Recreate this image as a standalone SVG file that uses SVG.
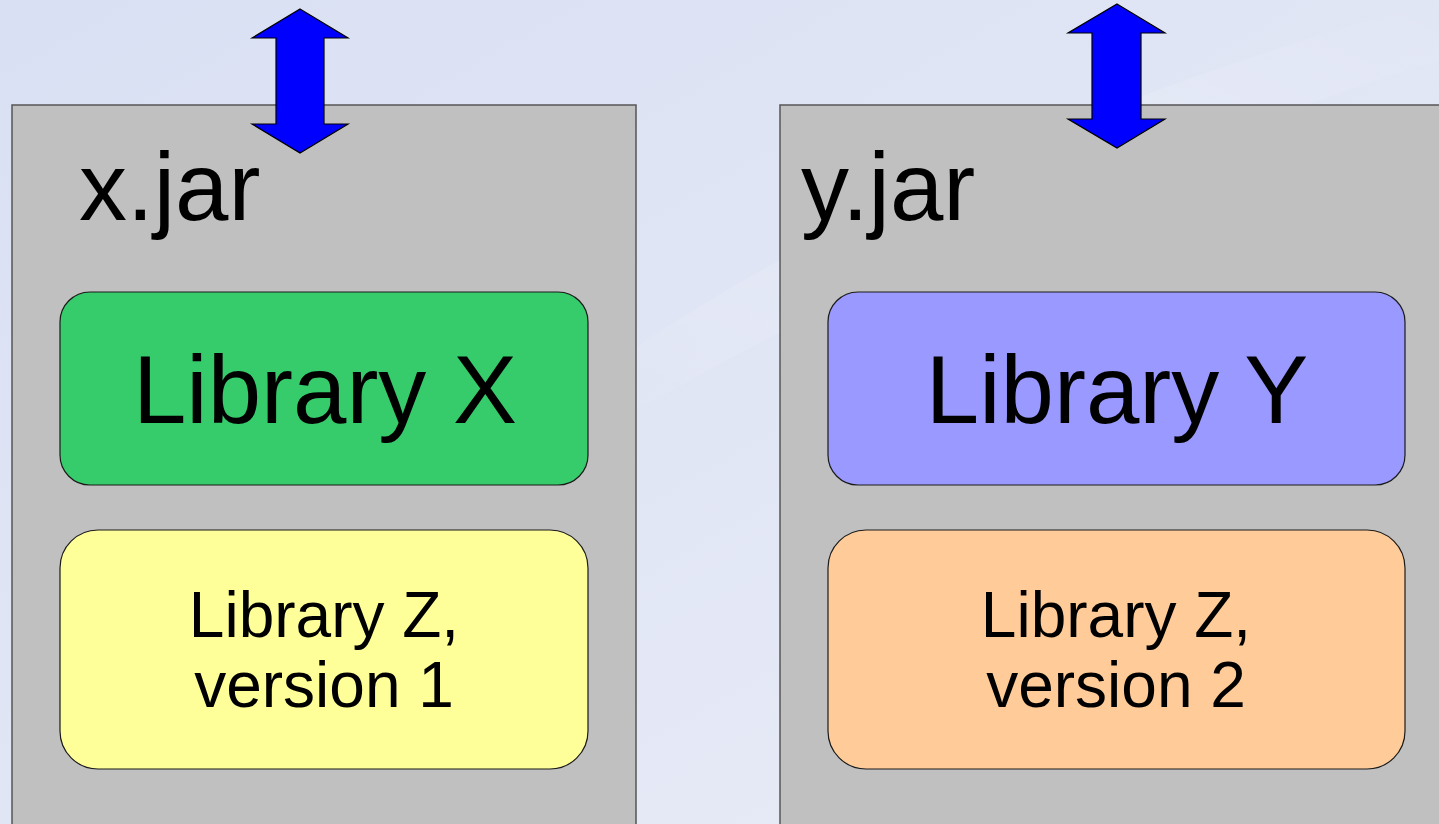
<svg xmlns="http://www.w3.org/2000/svg" width="1439" height="824" viewBox="0 0 1439 824">
  <style>
    .jar { fill: #c0c0c0; stroke: #555555; stroke-width: 1.5; }
    .lib { stroke: #1a1a1a; stroke-width: 1.2; }
    .arrow { fill: #0000ff; stroke: #000000; stroke-width: 1.2; stroke-linejoin: miter; }
    .t { font-family: "Liberation Sans", Arial, sans-serif; fill: #000000; }
    .big { font-size: 96px; }
    .small { font-size: 64px; text-anchor: middle; }
    .mid { text-anchor: middle; }
  </style>
  <defs>
    <linearGradient id="bg" x1="0" y1="0" x2="1" y2="1">
      <stop offset="0" stop-color="#d9e0f3"/>
      <stop offset="0.5" stop-color="#e1e6f5"/>
      <stop offset="1" stop-color="#eaedf8"/>
    </linearGradient>
    <linearGradient id="streak" x1="0" y1="1" x2="1" y2="0">
      <stop offset="0" stop-color="#ffffff" stop-opacity="0"/>
      <stop offset="0.5" stop-color="#ffffff" stop-opacity="0.22"/>
      <stop offset="1" stop-color="#ffffff" stop-opacity="0"/>
    </linearGradient>
  </defs>

  <!-- backdrop -->
  <rect x="0" y="0" width="1439" height="824" fill="url(#bg)"/>
  <path d="M 560 400 Q 900 150 1439 0 L 1439 60 Q 1000 200 620 420 Z" fill="url(#streak)"/>

  <!-- x.jar container -->
  <g id="x-jar">
    <rect class="jar" x="12" y="105" width="624" height="740"/>
    <text class="t big" x="79" y="220">x.jar</text>
  </g>

  <!-- y.jar container -->
  <g id="y-jar">
    <rect class="jar" x="780" y="105" width="680" height="740"/>
    <text class="t big" x="801" y="220">y.jar</text>
  </g>

  <g id="library-x">
    <rect class="lib" x="60" y="292" width="528" height="193" rx="30" fill="#36cb6b"/>
    <text class="t big mid" x="325" y="423">Library X</text>
  </g>

  <g id="library-z1">
    <rect class="lib" x="60" y="530" width="528" height="239" rx="38" fill="#ffff99"/>
    <text class="t small" x="324" y="637">Library Z,</text>
    <text class="t small" x="324" y="707">version 1</text>
  </g>

  <g id="library-y">
    <rect class="lib" x="828" y="292" width="577" height="193" rx="30" fill="#9999ff"/>
    <text class="t big mid" x="1117" y="423">Library Y</text>
  </g>

  <g id="library-z2">
    <rect class="lib" x="828" y="530" width="577" height="239" rx="38" fill="#ffcc99"/>
    <text class="t small" x="1116" y="637">Library Z,</text>
    <text class="t small" x="1116" y="707">version 2</text>
  </g>

  <!-- double-headed arrows into each jar -->
  <g id="connectors">
    <polygon class="arrow" points="300,9 348,38 324,38 324,124 348,124 300,153 252,124 276,124 276,38 252,38"/>
    <polygon class="arrow" points="1117,4 1165,33 1141,33 1141,119 1165,119 1117,148 1068,119 1092,119 1092,33 1068,33"/>
  </g>
</svg>
